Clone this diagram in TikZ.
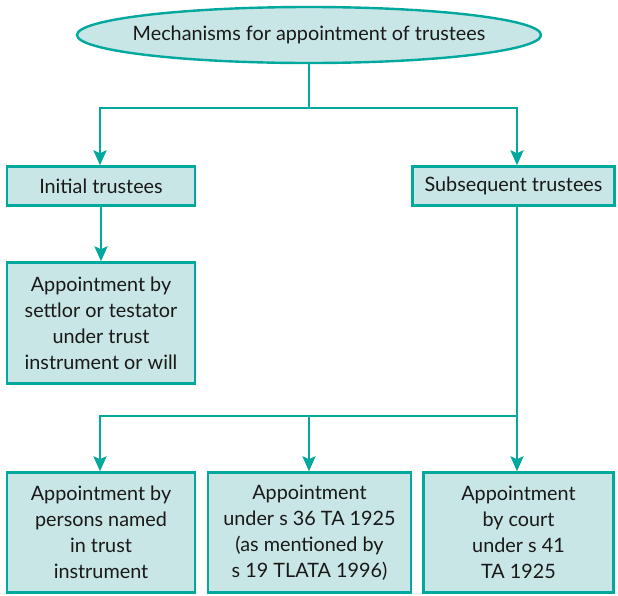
\documentclass[tikz,border=0pt]{standalone}
\usepackage{fontspec}
\setmainfont{Lato}
\usetikzlibrary{shapes.geometric,arrows.meta}
\definecolor{teal1}{RGB}{0,168,158}
\definecolor{paleteal}{RGB}{200,230,229}
\tikzset{
  box/.style={draw=teal1, line width=2.4pt, fill=paleteal, inner sep=0pt,
    align=center, font=\fontsize{19.8}{26}\selectfont, text=black!90},
  link/.style={draw=teal1, line width=2.6pt},
  arr/.style={link, -{Stealth[length=15pt,width=13pt,inset=3pt]}},
}
\begin{document}
\begin{tikzpicture}[x=1pt,y=-1pt]
\useasboundingbox (0,0) rectangle (618,595);

% root ellipse
\node[box, ellipse, inner xsep=-13pt, minimum width=464pt, minimum height=56pt] (root) at (309,35)
  {Mechanisms for appointment of trustees};

% first level
\node[box, minimum width=188pt, minimum height=39pt] (init) at (101,186) {Initial trustees};
\node[box, minimum width=202pt, minimum height=39pt] (subs) at (513.5,186) {Subsequent trustees};

% settlor box
\node[box, minimum width=188pt, minimum height=121pt] (settlor) at (101,323)
  {Appointment by\\settlor or testator\\under trust\\instrument or will};

% bottom row
\node[box, minimum width=188pt, minimum height=120pt] (named) at (101,532.5)
  {Appointment by\\persons named\\in trust\\instrument};
\node[box, minimum width=203pt, minimum height=120pt] (s36) at (309.5,532.5)
  {Appointment\\under s 36 TA 1925\\(as mentioned by\\s 19 TLATA 1996)};
\node[box, minimum width=190pt, minimum height=120pt] (court) at (518.5,532.5)
  {Appointment\\by court\\under s 41\\TA 1925};

% junction points
\coordinate (j1) at (309,108);
\coordinate (j2) at (517,416);

% connectors
\draw[link] (root.south) -- (j1);
\draw[arr] (j1) -| ([xshift=-1pt]init.north);
\draw[arr] (j1) -| ([xshift=3.5pt]subs.north);
\draw[arr] (init.south -| settlor.north) -- (settlor.north);
\draw[link] ([xshift=3.5pt]subs.south) -- (j2);
\draw[arr] (j2) -| ([xshift=-1pt]named.north);
\draw[arr] (j2 -| s36.north) ++(-0.5,0) -- ([xshift=-0.5pt]s36.north);
\draw[arr] (j2) -- ([xshift=-1.5pt]court.north);
\end{tikzpicture}
\end{document}
